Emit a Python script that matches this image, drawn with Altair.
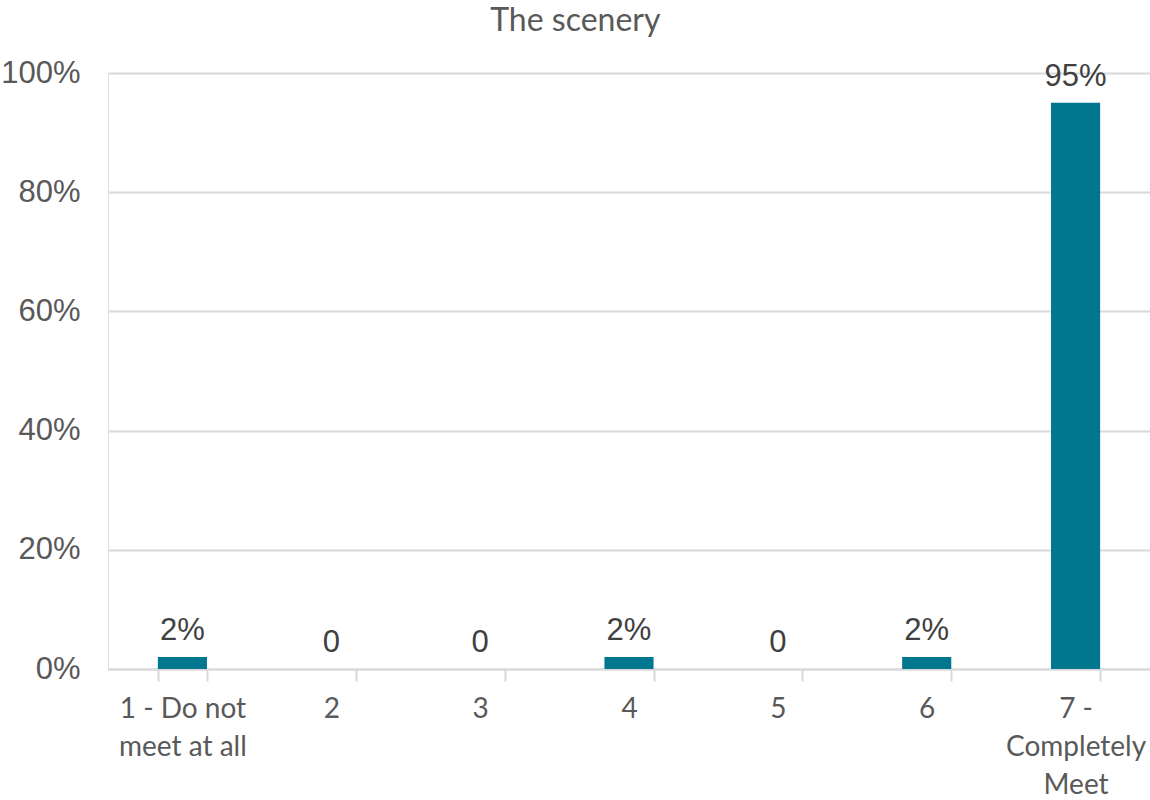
import altair as alt
import pandas as pd

# Ratings on a 1-7 agreement scale and their share of responses
categories = ["1 - Do not|meet at all", "2", "3", "4", "5", "6", "7 -|Completely|Meet"]
shares = [0.02, 0.0, 0.0, 0.02, 0.0, 0.02, 0.95]
value_labels = ["2%", "0", "0", "2%", "0", "2%", "95%"]

df = pd.DataFrame({"category": categories, "share": shares, "label": value_labels})

BAR = "#00778F"
GRID = "#D9D9D9"

x = alt.X(
    "category:N",
    sort=categories,
    title=None,
    scale=alt.Scale(paddingInner=0.67, paddingOuter=0.335),
    axis=alt.Axis(
        labelAngle=0,
        labelExpr="split(datum.label, '|')",
        labelFont="Lato",
        labelFontSize=28,
        labelColor="#595959",
        labelLineHeight=38,
        labelPadding=14,
        labelBaseline="top",
        tickBand="extent",
        tickColor=GRID,
        tickWidth=2,
        tickSize=12,
        domainColor=GRID,
        domainWidth=2,
        grid=False,
    ),
)

y = alt.Y(
    "share:Q",
    title=None,
    scale=alt.Scale(domain=[0, 1]),
    axis=alt.Axis(
        format=".0%",
        values=[0, 0.2, 0.4, 0.6, 0.8, 1.0],
        labelFont="Liberation Sans",
        labelFontSize=31,
        labelColor="#595959",
        labelPadding=28,
        ticks=False,
        domain=False,
        gridColor=GRID,
        gridWidth=2,
    ),
)

bars = alt.Chart(df).mark_bar(color=BAR).encode(x=x, y=y)

text = alt.Chart(df).mark_text(
    font="Liberation Sans",
    fontSize=31,
    color="#404040",
    baseline="alphabetic",
    dy=-17,
).encode(x=alt.X("category:N", sort=categories), y="share:Q", text="label:N")

chart = (
    alt.layer(bars, text)
    .properties(
        width=1042,
        height=596,
        title=alt.TitleParams(
            "The scenery",
            font="Lato",
            fontSize=32,
            fontWeight="normal",
            color="#595959",
            anchor="middle",
            frame="bounds",
            offset=19,
        ),
        autosize=alt.AutoSizeParams(type="none"),
        padding={"left": 108, "top": 73, "right": 0, "bottom": 131},
    )
    .configure_view(stroke=None)
    .configure(background="white")
)

chart.save("out.html", embed_options={"renderer": "svg", "actions": False})
